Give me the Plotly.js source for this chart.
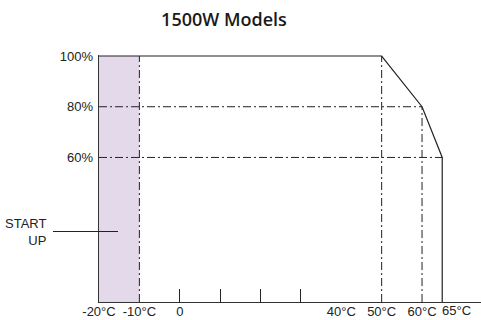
<!DOCTYPE html>
<html>
<head>
<meta charset="utf-8">
<script src="https://cdn.plot.ly/plotly-3.0.1.min.js"></script>
<style>html,body{margin:0;padding:0;background:#fff}#chart{width:481px;height:320px}</style>
</head>
<body>
<div id="chart"></div>
<script>
// ---- data ----
const titleText = "1500W Models";
const xRange = [-20, 74.6];
const yRange = [3, 100.4];
const startupTemp = [-20, -10];          // start-up region (shaded)
const deratingTemp = [-20, 50, 60, 65, 65];
const deratingLoad = [100, 100, 80, 60, 3];
const refVertTemp = [-10, 50, 60];       // dash-dot verticals
const refVertLoad = [100, 100, 80];      // their top
const refHorzLoad = [80, 60];            // dash-dot horizontals
const refHorzEnd = [60, 65];             // their right end (°C)
const xTickVals = [-20, -10, 0, 40, 50, 60];
const xTickText = ["-20°C", "-10°C", "0", "40°C", "50°C", "60°C"];
const xMinorTicks = [0, 10, 20, 30];
const lastTemp = 65, lastTempText = "65°C";
const yTickVals = [60, 80, 100];
const yTickText = ["60%", "80%", "100%"];
const startupLabel = "START<br>UP";
const startupPoint = [-15.3, 30.8];

const ink = "#222";
const dd = "8px,3px,2px,3px";

const traces = [];
traces.push({
  x: [startupTemp[0], startupTemp[1], startupTemp[1], startupTemp[0], startupTemp[0]],
  y: [yRange[0], yRange[0], 100, 100, yRange[0]],
  fill: "toself", fillcolor: "#e4d9ea", mode: "lines", line: {width: 0},
  hoverinfo: "skip", showlegend: false
});
// vertical dash-dot
let vx = [], vy = [];
refVertTemp.forEach((t, i) => { vx.push(t, t, null); vy.push(yRange[0], refVertLoad[i], null); });
traces.push({x: vx, y: vy, mode: "lines", line: {color: ink, width: 1, dash: dd}, showlegend: false, hoverinfo: "skip"});
// horizontal dash-dot
let hx = [], hy = [];
refHorzLoad.forEach((l, i) => { hx.push(xRange[0], refHorzEnd[i], null); hy.push(l, l, null); });
traces.push({x: hx, y: hy, mode: "lines", line: {color: ink, width: 1, dash: dd}, showlegend: false, hoverinfo: "skip"});
// derating curve
traces.push({x: deratingTemp, y: deratingLoad, mode: "lines", line: {color: ink, width: 1.2}, showlegend: false, hoverinfo: "skip"});

const layout = {
  width: 481, height: 320,
  margin: {l: 99, r: 0, t: 55, b: 18},
  paper_bgcolor: "#fff", plot_bgcolor: "#fff",
  font: {family: "Liberation Sans, Arial, sans-serif", size: 13, color: ink},
  title: {text: titleText, x: 224/481, xref: "container", xanchor: "center",
          y: 1 - 20/320, yref: "container", yanchor: "middle",
          font: {family: "Open Sans", size: 18, weight: 600, color: "#1a1a1a"}},
  xaxis: {range: xRange, showgrid: false, zeroline: false, showline: true, linecolor: "#333", linewidth: 1.3,
          tickmode: "array", tickvals: xTickVals, ticktext: xTickText, ticks: "", ticklabelstandoff: -3,
          minor: {tickmode: "array", tickvals: xMinorTicks, ticks: "inside", ticklen: 13, tickcolor: ink, tickwidth: 1, showgrid: false},
          fixedrange: true},
  yaxis: {range: yRange, showgrid: false, zeroline: false, showline: true, linecolor: "#333", linewidth: 1.3,
          tickmode: "array", tickvals: yTickVals, ticktext: yTickText, ticks: "", ticklabelstandoff: 2, fixedrange: true},
  annotations: [
    {x: lastTemp, y: 0, xref: "x", yref: "paper", text: lastTempText, showarrow: false,
     xanchor: "center", yanchor: "top", xshift: 14, yshift: 1, font: {size: 13, color: ink}},
    {x: startupPoint[0], y: startupPoint[1], xref: "x", yref: "y", text: startupLabel, align: "right",
     showarrow: true, arrowhead: 0, arrowwidth: 1, arrowcolor: ink, ax: -92, ay: 0, startstandoff: 5,
     font: {size: 13, color: ink}}
  ]
};
Plotly.newPlot("chart", traces, layout, {staticPlot: true, displayModeBar: false});
</script>
</body>
</html>
